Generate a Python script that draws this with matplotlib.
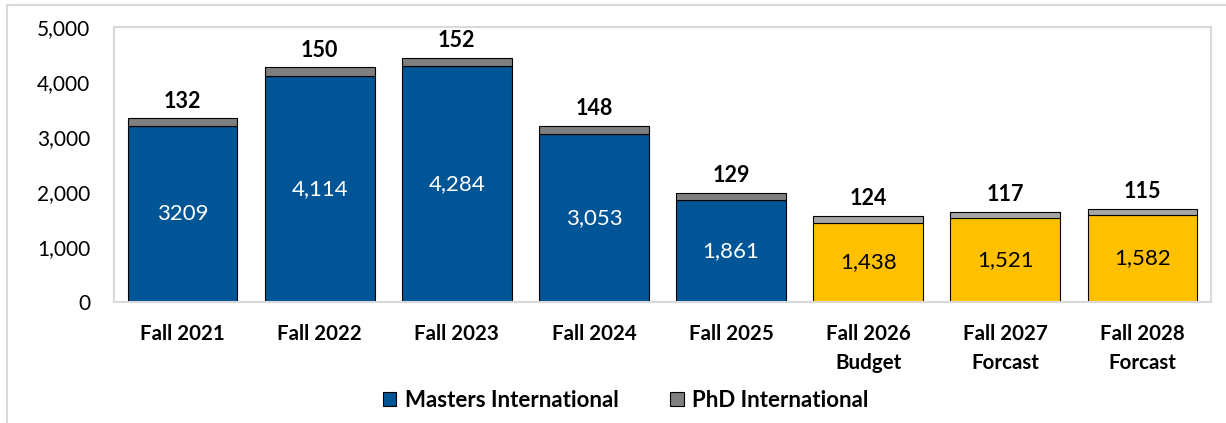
import matplotlib.pyplot as plt
from matplotlib.patches import Rectangle, Patch
from matplotlib.ticker import FuncFormatter

plt.rcParams['font.family'] = ['Lato', 'DejaVu Sans']

terms = ["Fall 2021", "Fall 2022", "Fall 2023", "Fall 2024", "Fall 2025",
         "Fall 2026\nBudget", "Fall 2027\nForcast", "Fall 2028\nForcast"]
masters = [3209, 4114, 4284, 3053, 1861, 1438, 1521, 1582]
phd = [132, 150, 152, 148, 129, 124, 117, 115]
masters_labels = ["3209", "4,114", "4,284", "3,053", "1,861", "1,438", "1,521", "1,582"]
is_forecast = [False, False, False, False, False, True, True, True]

blue = "#005596"
gold = "#FFC000"
dark_gray = "#7F7F7F"
light_gray = "#A6A6A6"

fig = plt.figure(figsize=(12.26, 4.23), dpi=100)
ax = fig.add_axes([114 / 1226, 1 - 302 / 423, (1211 - 114) / 1226, (302 - 27) / 423])

# outer chart frame
fig.patches.append(Rectangle((7 / 1226, -0.05), 1.1, 1 - 5 / 423 + 0.05,
                             transform=fig.transFigure, fill=False,
                             edgecolor="#D9D9D9", linewidth=1.5))

x = range(len(terms))
m_colors = [gold if f else blue for f in is_forecast]
p_colors = [light_gray if f else dark_gray for f in is_forecast]

ax.bar(x, masters, width=0.8, color=m_colors, edgecolor="black", linewidth=0.8)
ax.bar(x, phd, bottom=masters, width=0.8, color=p_colors, edgecolor="black", linewidth=0.8)

for i in x:
    txt_color = "black" if is_forecast[i] else "white"
    ax.text(i, masters[i] / 2, masters_labels[i], ha="center", va="center",
            fontsize=16, color=txt_color)
    ax.text(i, masters[i] + phd[i] + 120, str(phd[i]), ha="center", va="bottom",
            fontsize=15.5, fontweight="bold", color="black")

ax.set_xlim(-0.5, len(terms) - 0.5)
ax.set_ylim(0, 5000)
ax.set_yticks(range(0, 5001, 1000))
ax.yaxis.set_major_formatter(FuncFormatter(lambda v, p: f"{int(v):,}"))
ax.set_xticks(list(x))
ax.set_xticklabels(terms, fontsize=14.8, fontweight="bold", linespacing=1.55)
ax.tick_params(axis="y", length=0, pad=17, labelsize=15)
ax.tick_params(axis="x", length=0, pad=16)
for s in ax.spines.values():
    s.set_color("#D9D9D9")
    s.set_linewidth(1.5)

handles = [Patch(facecolor=blue, edgecolor="black", linewidth=0.8, label="Masters International"),
           Patch(facecolor=dark_gray, edgecolor="black", linewidth=0.8, label="PhD International")]
fig.legend(handles=handles, loc="center", bbox_to_anchor=(0.5 + 13 / 1226, 1 - 400 / 423), ncol=2,
           frameon=False, prop={"weight": "bold", "size": 16},
           handlelength=0.6, handleheight=0.6, handletextpad=0.4, columnspacing=2.3)

fig.savefig("out.png", dpi=100)
